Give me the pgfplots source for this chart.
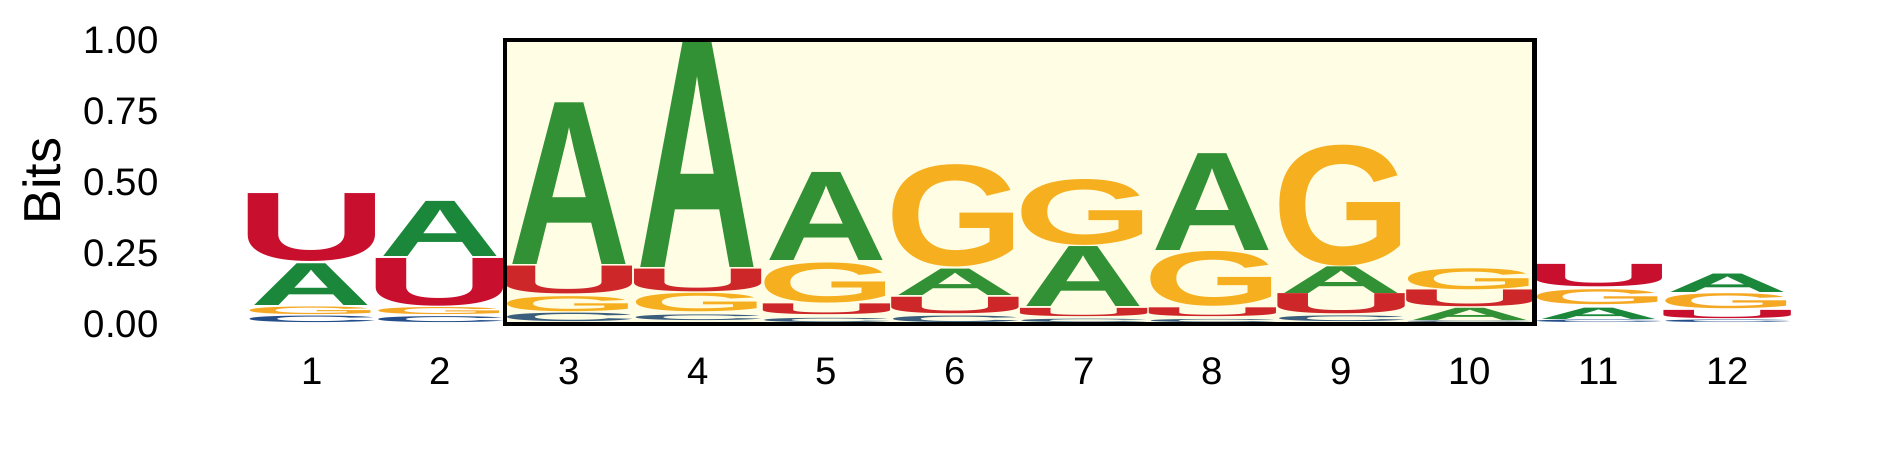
\documentclass[border=0pt]{standalone}
\usepackage{fontspec}
\setmainfont{Liberation Sans}
\usepackage{graphicx}
\usepackage{pgfplots}
\usepackage{pgfplotstable}
\pgfplotsset{compat=1.18}

\definecolor{cA}{RGB}{26,135,58}
\definecolor{cU}{RGB}{200,16,46}
\definecolor{cG}{RGB}{245,168,35}
\definecolor{cC}{RGB}{36,78,138}

% letter box size: width per column and height per bit
\newlength\letterW \setlength\letterW{61pt}
\newlength\bitH \setlength\bitH{142pt}

% glyphs with side bearings cut off
\newcommand\glyphA{\textbf{A}}
\newcommand\glyphU{\textbf{\kern-0.073em U\kern-0.073em}}
\newcommand\glyphG{\textbf{\kern-0.046em G\kern-0.050em}}
\newcommand\glyphC{\textbf{\kern-0.047em C\kern-0.040em}}

% columns: position, bottom of letter, letter height (bits)
\pgfplotstableread{
x y h
1 0.067 0.147
2 0.237 0.194
3 0.208 0.569
4 0.200 0.794
5 0.223 0.310
6 0.100 0.093
7 0.061 0.211
8 0.258 0.341
9 0.108 0.094
10 0.014 0.043
11 0.017 0.040
12 0.110 0.065
}\tabA
\pgfplotstableread{
x y h
1 0.219 0.239
2 0.063 0.168
3 0.106 0.098
4 0.114 0.080
5 0.032 0.038
6 0.038 0.058
7 0.026 0.029
8 0.026 0.031
9 0.035 0.071
10 0.061 0.059
11 0.131 0.079
12 0.020 0.029
}\tabU
\pgfplotstableread{
x y h
1 0.034 0.027
2 0.032 0.025
3 0.043 0.053
4 0.043 0.065
5 0.075 0.141
6 0.200 0.360
7 0.278 0.232
8 0.061 0.193
9 0.204 0.426
10 0.122 0.074
11 0.067 0.053
12 0.053 0.053
}\tabG
\pgfplotstableread{
x y h
1 0.005 0.023
2 0.005 0.021
3 0.008 0.030
4 0.012 0.020
5 0.005 0.015
6 0.005 0.023
7 0.006 0.012
8 0.006 0.011
9 0.008 0.020
10 0.004 0.006
11 0.005 0.009
12 0.005 0.009
}\tabC

\pgfplotsset{
  letter/.style 2 args={
    draw=none, mark=none,
    point meta=explicit symbolic,
    nodes near coords={\resizebox*{\letterW}{\pgfplotspointmeta\bitH}{\textcolor{#1}{#2}}},
    every node near coord/.append style={anchor=south, inner sep=0pt, outer sep=0pt},
  },
}

\begin{document}
\begin{tikzpicture}
\begin{axis}[
  set layers,
  scale only axis,
  width=944.5pt, height=236pt,
  xmin=-1.422, xmax=13.256,
  ymin=-0.521, ymax=1.141,
  axis line style={draw=none},
  major tick length=0pt,
  tick style={draw=none},
  clip=false,
  xtick={1,2,3,4,5,6,7,8,9,10,11,12},
  ytick={0,0.25,0.5,0.75,1},
  /pgf/number format/assume math mode=true,
  yticklabel style={/pgf/number format/fixed, /pgf/number format/fixed zerofill,
    /pgf/number format/precision=2, anchor=east, xshift=79.5pt},
  tick label style={font=\fontsize{19.2}{22}\selectfont, inner sep=0pt},
  xticklabel style={anchor=center, yshift=50.5pt},
  ylabel={Bits},
  ylabel style={at={(axis description cs:0.0222,0.6165)}, anchor=center,
    font=\fontsize{26}{30}\selectfont},
]
\addplot[letter={cC}{\glyphC}] table[x=x, y=y, meta=h] {\tabC};
\addplot[letter={cG}{\glyphG}] table[x=x, y=y, meta=h] {\tabG};
\addplot[letter={cU}{\glyphU}] table[x=x, y=y, meta=h] {\tabU};
\addplot[letter={cA}{\glyphA}] table[x=x, y=y, meta=h] {\tabA};

% highlighted region, laid over the letters
\addplot[on layer=axis foreground, fill=yellow, fill opacity=0.1,
  draw=black, line width=2.25pt]
  coordinates {(2.5,0) (10.5,0) (10.5,1) (2.5,1)} -- cycle;
\end{axis}
\end{tikzpicture}
\end{document}
